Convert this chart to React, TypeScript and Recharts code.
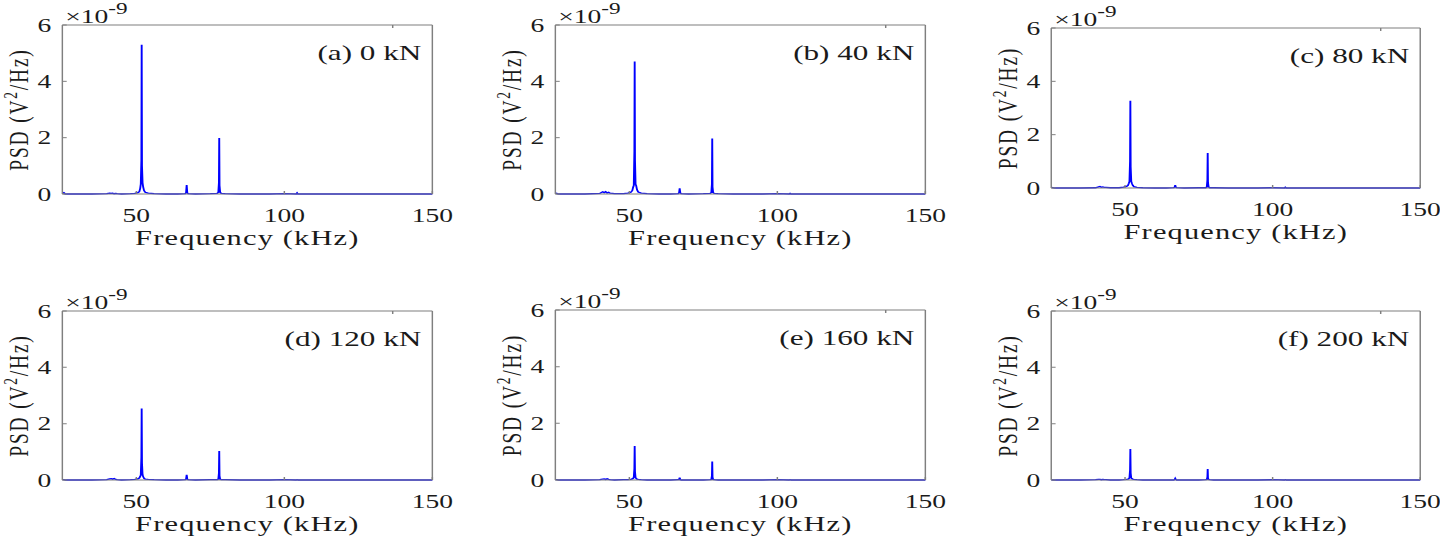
import React from 'react'
import { LineChart, Line, XAxis, YAxis } from 'recharts'

// the source figure is stretched sideways, so everything is drawn narrow and scaled in x
const S = 1.45

const FREQ = [
  25, 25.5, 26, 30, 35, 40, 41, 41.5, 42, 42.5,
  43, 43.5, 45, 48, 49.5, 50.5, 51, 51.3, 51.5, 51.7,
  51.8, 51.9, 52.1, 52.3, 52.6, 53, 54, 56, 60, 64,
  66.5, 66.8, 67, 67.2, 67.5, 70, 75, 77.3, 77.7, 77.9,
  78, 78.1, 78.3, 78.7, 80, 85, 90, 95, 100, 104,
  104.3, 104.6, 110, 120, 130, 140, 150,
]

const PSD_0KN = [
  0.02, 0.05, 0, 0, 0, 0.01, 0.03, 0.02, 0.03, 0.01,
  0.02, 0.01, 0, 0.01, 0.02, 0.05, 0.08, 0.2, 0.35, 1.2,
  5.3, 1.0, 0.4, 0.25, 0.12, 0.06, 0.03, 0.01, 0, 0,
  0.01, 0.04, 0.32, 0.04, 0.01, 0, 0.01, 0.02, 0.06, 0.4,
  1.99, 0.3, 0.06, 0.02, 0.01, 0, 0, 0, 0.01, 0,
  0.04, 0, 0, 0, 0, 0, 0,
]
const PSD_40KN = [
  0.03, 0.02, 0, 0, 0, 0.02, 0.08, 0.05, 0.08, 0.04,
  0.06, 0.03, 0.01, 0.01, 0.03, 0.06, 0.12, 0.25, 0.3, 1.5,
  4.7, 1.2, 0.35, 0.3, 0.15, 0.07, 0.03, 0.01, 0, 0,
  0.01, 0.04, 0.2, 0.04, 0.01, 0, 0.01, 0.02, 0.05, 0.35,
  1.97, 0.25, 0.05, 0.02, 0.01, 0, 0, 0, 0.01, 0,
  0.02, 0, 0, 0, 0, 0, 0,
]
const PSD_80KN = [
  0.02, 0.01, 0, 0, 0, 0.01, 0.04, 0.06, 0.03, 0.04,
  0.02, 0.02, 0.01, 0.01, 0.03, 0.06, 0.1, 0.18, 0.25, 1.0,
  3.27, 0.8, 0.25, 0.18, 0.1, 0.05, 0.02, 0.01, 0, 0,
  0.01, 0.03, 0.11, 0.03, 0.01, 0, 0.01, 0.01, 0.04, 0.3,
  1.31, 0.2, 0.04, 0.01, 0.01, 0, 0, 0, 0.01, 0,
  0.03, 0, 0, 0, 0, 0, 0,
]
const PSD_120KN = [
  0.01, 0.01, 0, 0, 0, 0.01, 0.04, 0.05, 0.03, 0.05,
  0.02, 0.01, 0, 0.01, 0.02, 0.04, 0.07, 0.12, 0.18, 0.8,
  2.54, 0.6, 0.18, 0.12, 0.06, 0.03, 0.02, 0.01, 0, 0,
  0.01, 0.03, 0.18, 0.03, 0.01, 0, 0.01, 0.01, 0.03, 0.25,
  1.03, 0.15, 0.03, 0.01, 0.01, 0, 0, 0, 0.01, 0,
  0.01, 0, 0, 0, 0, 0, 0,
]
const PSD_160KN = [
  0.01, 0.01, 0, 0, 0, 0.01, 0.03, 0.04, 0.02, 0.04,
  0.02, 0.01, 0, 0.01, 0.01, 0.02, 0.04, 0.06, 0.1, 0.4,
  1.2, 0.3, 0.08, 0.06, 0.03, 0.02, 0.01, 0, 0, 0,
  0.01, 0.02, 0.08, 0.02, 0, 0, 0, 0.01, 0.02, 0.15,
  0.65, 0.1, 0.02, 0.01, 0, 0, 0, 0, 0.01, 0,
  0.01, 0, 0, 0, 0, 0, 0,
]
const PSD_200KN = [
  0.01, 0, 0, 0, 0, 0.01, 0.02, 0.02, 0.01, 0.02,
  0.01, 0.01, 0, 0, 0.01, 0.02, 0.03, 0.05, 0.08, 0.35,
  1.1, 0.25, 0.07, 0.05, 0.03, 0.02, 0.01, 0, 0, 0,
  0, 0.02, 0.06, 0.02, 0, 0, 0, 0.01, 0.02, 0.1,
  0.39, 0.06, 0.02, 0.01, 0, 0, 0, 0, 0.01, 0,
  0.01, 0, 0, 0, 0, 0, 0,
]

const TITLES = ['(a) 0 kN', '(b) 40 kN', '(c) 80 kN', '(d) 120 kN', '(e) 160 kN', '(f) 200 kN']
const SERIES = [PSD_0KN, PSD_40KN, PSD_80KN, PSD_120KN, PSD_160KN, PSD_200KN]
const X_TICKS = [50, 100, 150]
const Y_TICKS = [0, 2, 4, 6]

// plot boxes in page pixels: left, right, top, bottom
const BOXES = [
  [62, 432, 25, 194], [556, 926, 25, 194], [1051, 1420, 28, 188],
  [62, 432, 311, 480], [556, 926, 310, 480], [1051, 1420, 311, 480],
]

const FONT = "'Liberation Serif', 'Times New Roman', serif"
const AXIS = '#7f7f7f'
const INK = '#1a1a1a'
const BLUE = '#0000ff'

const YW = 60
const TOP = 40
const RIGHT = 30
const XH = 70

function Panel({ title, values, box }: { title: string; values: number[]; box: number[] }) {
  const [x0, x1, y0, y1] = box
  const pw = (x1 - x0) / S
  const ph = y1 - y0
  const width = YW + pw + 1 + RIGHT
  const height = TOP + 1 + ph + XH
  const data = FREQ.map((f, i) => ({ f, v: values[i] }))
  const left = YW
  const top = TOP + 1

  const notes = () => (
    <g fontFamily={FONT} fill={INK}>
      <text transform={`translate(${left - 23.5}, ${top + ph / 2}) rotate(-90)`} textAnchor="middle" fontSize={19.5} letterSpacing={1.8}>
        PSD (V<tspan dy={-8} fontSize={13.5}>2</tspan><tspan dy={8}>/Hz)</tspan>
      </text>
      <text x={left + 2} y={top - 2} fontSize={19}>
        ×10<tspan dy={-9} fontSize={16}>-9</tspan>
      </text>
      <text x={left + pw - 7.6} y={top + 35} textAnchor="end" fontSize={21.5}>{title}</text>
      <text x={left + pw / 2} y={top + ph + 51} textAnchor="middle" fontSize={21} letterSpacing={0.8}>Frequency (kHz)</text>
    </g>
  )

  return (
    <div style={{ position: 'absolute', left: x0 / S - YW, top: y0 - TOP - 1 }}>
      <LineChart width={width} height={height} data={data} margin={{ top: TOP, right: RIGHT, bottom: 0, left: 0 }}>
        <XAxis
          dataKey="f" type="number" domain={[25, 150]} ticks={X_TICKS} interval={0}
          height={XH} stroke={AXIS} tickSize={-3} tickMargin={18}
          tick={{ fill: INK, fontSize: 19, fontFamily: FONT }}
        />
        <XAxis
          xAxisId="top" orientation="top" type="number" domain={[25, 150]} ticks={X_TICKS} interval={0}
          height={1} stroke={AXIS} tickSize={-3} tickFormatter={() => ''}
        />
        <YAxis
          type="number" domain={[0, 6]} ticks={Y_TICKS} interval={0}
          width={YW} stroke={AXIS} tickSize={-3} tickMargin={10.6}
          tick={{ fill: INK, fontSize: 19, fontFamily: FONT }}
          label={{ content: notes }}
        />
        <YAxis
          yAxisId="right" orientation="right" type="number" domain={[0, 6]} ticks={Y_TICKS} interval={0}
          width={1} stroke={AXIS} tickSize={-3} tickFormatter={() => ''}
        />
        <Line dataKey="v" type="linear" stroke={BLUE} strokeWidth={1.3} dot={false} isAnimationActive={false} />
      </LineChart>
    </div>
  )
}

export default function App() {
  return (
    <div style={{ position: 'absolute', left: 0, top: 0, width: 1440, height: 539, overflow: 'hidden', background: '#fff' }}>
      <div style={{ position: 'relative', width: 1440 / S, height: 539, transform: `scaleX(${S})`, transformOrigin: '0 0' }}>
        {TITLES.map((t, i) => (
          <Panel key={t} title={t} values={SERIES[i]} box={BOXES[i]} />
        ))}
      </div>
    </div>
  )
}
